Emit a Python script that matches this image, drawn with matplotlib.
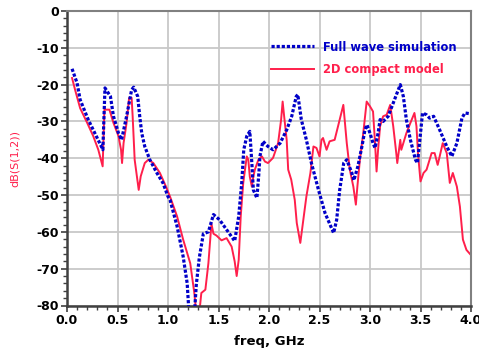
import matplotlib
matplotlib.use("Agg")
import matplotlib.pyplot as plt
from matplotlib.ticker import MultipleLocator

# Full wave simulation (blue dotted)
fw_freq = [0.05, 0.10, 0.13, 0.21, 0.29, 0.34, 0.355, 0.376, 0.43, 0.46, 0.51, 0.54, 0.59, 0.64, 0.66,
           0.70, 0.72, 0.74, 0.77, 0.82, 0.89, 0.95, 1.00, 1.02, 1.09, 1.15, 1.19, 1.21, 1.26, 1.28,
           1.31, 1.35, 1.40, 1.45, 1.51, 1.58, 1.64, 1.66, 1.70, 1.73, 1.75, 1.78, 1.81, 1.83, 1.845,
           1.88, 1.90, 1.91, 1.94, 1.99, 2.04, 2.11, 2.175, 2.225, 2.27, 2.285, 2.32, 2.37, 2.42, 2.49,
           2.555, 2.64, 2.67, 2.70, 2.74, 2.77, 2.82, 2.84, 2.88, 2.92, 2.95, 2.97, 3.00, 3.03, 3.05,
           3.08, 3.10, 3.13, 3.18, 3.23, 3.28, 3.30, 3.33, 3.36, 3.40, 3.45, 3.47, 3.50, 3.52, 3.56,
           3.59, 3.63, 3.69, 3.76, 3.81, 3.86, 3.91, 3.94, 3.99]
fw_db = [-15.7, -19.6, -24.1, -29.5, -34.0, -36.8, -37.7, -20.9, -23.2, -28.6, -33.2, -35.0, -28.6, -21.4, -20.7,
         -23.2, -28.6, -33.2, -36.8, -40.4, -44.0, -46.7, -50.4, -51.3, -58.5, -66.7, -74.0, -83.0, -83.0, -74.4,
         -67.0, -60.5, -60.0, -55.3, -56.7, -59.4, -61.7, -62.5, -55.8, -46.7, -37.7, -34.0, -32.7, -41.3, -48.6,
         -50.8, -44.0, -39.5, -35.4, -36.8, -37.7, -35.9, -32.3, -28.6, -23.2, -22.7, -29.5, -35.0, -41.3, -48.6,
         -54.9, -60.3, -56.7, -48.6, -41.3, -40.4, -44.0, -46.0, -42.2, -36.8, -32.3, -30.9, -33.2, -35.9, -37.2,
         -33.2, -29.5, -30.0, -28.6, -25.0, -21.4, -20.0, -23.2, -29.5, -35.0, -40.4, -41.3, -33.2, -27.7, -28.2,
         -29.1, -28.6, -32.3, -36.8, -39.5, -35.9, -29.1, -27.7, -27.9]

# 2D compact model (red solid)
cm_freq = [0.05, 0.08, 0.13, 0.20, 0.26, 0.31, 0.353, 0.37, 0.42, 0.46, 0.51, 0.535, 0.545, 0.56, 0.59,
           0.615, 0.64, 0.65, 0.67, 0.71, 0.73, 0.77, 0.805, 0.855, 0.92, 0.98, 1.02, 1.09, 1.15, 1.22,
           1.26, 1.28, 1.31, 1.33, 1.37, 1.40, 1.43, 1.45, 1.48, 1.53, 1.58, 1.63, 1.66, 1.68, 1.70,
           1.72, 1.745, 1.78, 1.795, 1.81, 1.83, 1.845, 1.86, 1.895, 1.93, 1.96, 1.99, 2.04, 2.09, 2.12,
           2.135, 2.15, 2.175, 2.19, 2.22, 2.255, 2.275, 2.31, 2.34, 2.37, 2.41, 2.44, 2.47, 2.50, 2.52,
           2.535, 2.57, 2.60, 2.65, 2.70, 2.736, 2.77, 2.80, 2.835, 2.86, 2.875, 2.90, 2.93, 2.967, 3.00,
           3.03, 3.05, 3.065, 3.08, 3.10, 3.13, 3.165, 3.20, 3.23, 3.26, 3.27, 3.30, 3.31, 3.33, 3.36,
           3.40, 3.44, 3.46, 3.475, 3.50, 3.53, 3.56, 3.58, 3.61, 3.64, 3.67, 3.69, 3.72, 3.76, 3.79,
           3.82, 3.86, 3.89, 3.92, 3.955, 3.99]
cm_db = [-18.2, -21.4, -26.4, -30.4, -34.0, -37.7, -42.2, -26.8, -26.8, -30.4, -34.0, -37.7, -41.3, -35.9, -30.4,
         -23.6, -23.6, -28.6, -40.4, -48.6, -44.9, -41.3, -40.4, -41.3, -44.0, -47.7, -50.4, -55.8, -62.1, -68.5,
         -76.5, -82.0, -82.0, -76.6, -75.7, -68.5, -57.8, -60.5, -61.0, -62.3, -61.7, -64.0, -68.0, -72.0, -67.6,
         -55.8, -46.7, -39.5, -40.4, -45.0, -47.7, -45.0, -43.1, -40.4, -39.5, -40.9, -41.3, -39.9, -35.9, -29.5,
         -24.6, -28.6, -35.0, -43.1, -45.8, -51.3, -57.6, -63.0, -56.7, -50.4, -44.0, -36.8, -37.2, -39.5, -35.0,
         -34.5, -37.7, -35.4, -35.0, -29.5, -25.5, -35.9, -43.1, -47.7, -52.6, -47.7, -40.4, -34.0, -24.6, -25.9,
         -27.3, -35.9, -43.6, -37.7, -31.3, -28.6, -28.2, -25.5, -31.3, -38.6, -41.3, -35.0, -37.7, -35.9, -33.2,
         -30.4, -27.7, -31.3, -38.6, -46.3, -44.0, -43.1, -41.3, -38.6, -38.6, -41.8, -39.5, -35.9, -38.6, -46.7,
         -44.0, -47.7, -53.1, -62.1, -64.9, -66.0]

x_ticks = [0.0, 0.5, 1.0, 1.5, 2.0, 2.5, 3.0, 3.5, 4.0]
y_ticks = [0, -10, -20, -30, -40, -50, -60, -70, -80]

blue = "#0000c8"
red = "#ff1f4b"

fig = plt.figure(figsize=(4.79, 3.5), dpi=100)
ax = fig.add_axes([67/479, 1-305.5/350, 404/479, 294.5/350])

ax.plot(fw_freq, fw_db, color=blue, lw=2.3, linestyle=(0, (1.0, 0.6)),
        label="Full wave simulation", zorder=3, solid_capstyle="butt")
ax.plot(cm_freq, cm_db, color=red, lw=1.4, label="2D compact model", zorder=2)

ax.set_xlim(0, 4.0)
ax.set_ylim(-80, 0)
ax.set_xticks(x_ticks)
ax.set_xticklabels([f"{v:.1f}" for v in x_ticks])
ax.set_yticks(y_ticks)
ax.set_yticklabels([f"{v:d}" for v in y_ticks])
ax.xaxis.set_minor_locator(MultipleLocator(0.1))
ax.yaxis.set_minor_locator(MultipleLocator(2))
ax.grid(True, which="major", color="#c8c8c8", lw=1.3)
ax.set_axisbelow(True)

for lab in ax.get_xticklabels() + ax.get_yticklabels():
    lab.set_fontweight("bold")
    lab.set_fontsize(9)
    lab.set_family("DejaVu Sans")
ax.tick_params(which="major", direction="out", length=4, width=1.2, color="#404040", pad=2)
ax.tick_params(which="minor", direction="out", length=3, width=1.0, color="#404040")

for s in ["left", "bottom"]:
    ax.spines[s].set_color("#404040")
    ax.spines[s].set_linewidth(1.8)
for s in ["top", "right"]:
    ax.spines[s].set_color("#808080")
    ax.spines[s].set_linewidth(1.5)

ax.set_xlabel("freq, GHz", fontsize=9.5, fontweight="bold", labelpad=6)
ax.set_ylabel("dB(S(1,2))", fontsize=8, color=red, labelpad=12)

leg = ax.legend(loc="upper right", frameon=False, prop={"weight": "bold", "size": 8.3},
                handlelength=3.7, handletextpad=0.8, labelspacing=0.85,
                bbox_to_anchor=(0.99, 0.935))
for t, c in zip(leg.get_texts(), [blue, red]):
    t.set_color(c)

fig.savefig("out.png", dpi=100)
